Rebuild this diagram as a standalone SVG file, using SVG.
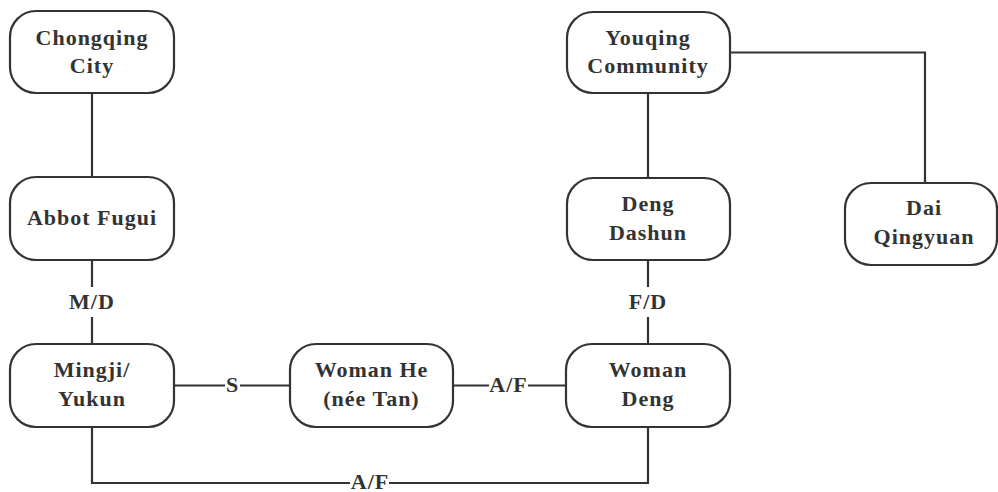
<svg xmlns="http://www.w3.org/2000/svg" width="998" height="492" viewBox="0 0 998 492">
<style>
.node rect{fill:#fff;stroke:#333;stroke-width:2.2}
text{font-family:"Liberation Serif","Times New Roman",serif;font-weight:bold;font-size:22px;letter-spacing:1px;fill:#333;text-anchor:middle}
.edges path{fill:none;stroke:#333;stroke-width:2.2}
</style>
<rect width="998" height="492" fill="#fff"/>
<g class="edges">
<path d="M92 93V177"/>
<path d="M92 260V287M92 317V344"/>
<path d="M174 385.5H225M240 385.5H290"/>
<path d="M453 385.5H489M528 385.5H566"/>
<path d="M648 93V178"/>
<path d="M648 260V287M648 317V344"/>
<path d="M730 52.5H925V183"/>
<path d="M92 427V483H350M389 483H648V427"/>
<text x="92" y="309">M/D</text>
<text x="232.5" y="392">S</text>
<text x="508.5" y="392">A/F</text>
<text x="648" y="309">F/D</text>
<text x="370" y="489">A/F</text>
</g>
<g id="chongqing" class="node"><rect x="10" y="11" width="164" height="82" rx="26"/><text x="92" y="45">Chongqing</text><text x="92" y="73">City</text></g>
<g id="abbot" class="node"><rect x="10" y="177" width="164" height="83" rx="26"/><text x="92" y="225">Abbot Fugui</text></g>
<g id="mingji" class="node"><rect x="10" y="344" width="164" height="83" rx="26"/><text x="92" y="377">Mingji/</text><text x="92" y="406">Yukun</text></g>
<g id="womanhe" class="node"><rect x="290" y="344" width="163" height="83" rx="26"/><text x="371.5" y="377">Woman He</text><text x="371.5" y="406">(née Tan)</text></g>
<g id="womandeng" class="node"><rect x="566" y="344" width="164" height="83" rx="26"/><text x="648" y="377">Woman</text><text x="648" y="406">Deng</text></g>
<g id="youqing" class="node"><rect x="567" y="12" width="163" height="81" rx="26"/><text x="648" y="45">Youqing</text><text x="648" y="73">Community</text></g>
<g id="dengdashun" class="node"><rect x="567" y="178" width="163" height="82" rx="26"/><text x="648" y="211">Deng</text><text x="648" y="240">Dashun</text></g>
<g id="daiqingyuan" class="node"><rect x="845" y="183" width="152" height="82" rx="26"/><text x="924" y="215">Dai</text><text x="924" y="244">Qingyuan</text></g>
</svg>
